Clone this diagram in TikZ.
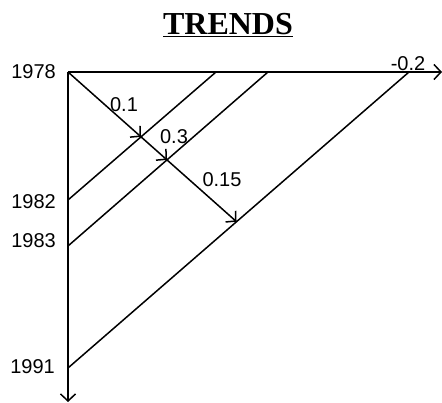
\documentclass[tikz,border=0pt]{standalone}
\usepackage{fontspec}
\setmainfont{Liberation Serif}
\newfontfamily\numfont{Liberation Sans}
\usetikzlibrary{arrows.meta, positioning}

\begin{document}
\begin{tikzpicture}[
    x=1pt, y=-1pt,
    yr/.style={font=\numfont\fontsize{20}{22}\selectfont, anchor=east, inner sep=1pt},
    val/.style={font=\numfont\fontsize{20}{22}\selectfont, inner sep=1pt},
    ln/.style={line width=1.5pt},
    fl/.style={line width=1.5pt, -{Straight Barb[length=7pt, width=15pt]}}
]
    \useasboundingbox (0,0) rectangle (442,403);

    \node[font=\bfseries\fontsize{32}{34}\selectfont] (title) at (228,25) {\underline{TRENDS}};

    % axes
    \coordinate (o) at (68,72);
    \coordinate (xend) at (442,72);
    \coordinate (yend) at (68,402);
    \draw[fl] (o) -- (xend);
    \draw[fl] (o) -- (yend);

    % years
    \coordinate (y82) at (68,200);
    \coordinate (y83) at (68,246);
    \coordinate (y91) at (68,368);
    \coordinate (t82) at (216,72);
    \coordinate (t83) at (268,72);
    \coordinate (t91) at (409,72);
    \node[yr] (n78) at (57,72) {1978};
    \node[yr] (n82) at (57,202) {1982};
    \node[yr] (n83) at (57,241) {1983};
    \node[yr] (n91) at (56,367) {1991};

    \draw[ln] (y82) -- (t82);
    \draw[ln] (y83) -- (t83);
    \draw[ln] (y91) -- (t91);

    % trend arrows
    \coordinate (far) at (408,374);
    \coordinate (p1) at (intersection of o--far and y82--t82);
    \coordinate (p2) at (intersection of o--far and y83--t83);
    \coordinate (p3) at (intersection of o--far and y91--t91);
    \draw[fl] (o) -- (p1);
    \draw[fl] (p1) -- (p2);
    \draw[fl] (p2) -- (p3);

    \node[val] (v1) at (124,105) {0.1};
    \node[val] (v3) at (174,137) {0.3};
    \node[val] (v15) at (222,180) {0.15};
    \node[val] (v2) at (408,64) {-0.2};
\end{tikzpicture}
\end{document}
